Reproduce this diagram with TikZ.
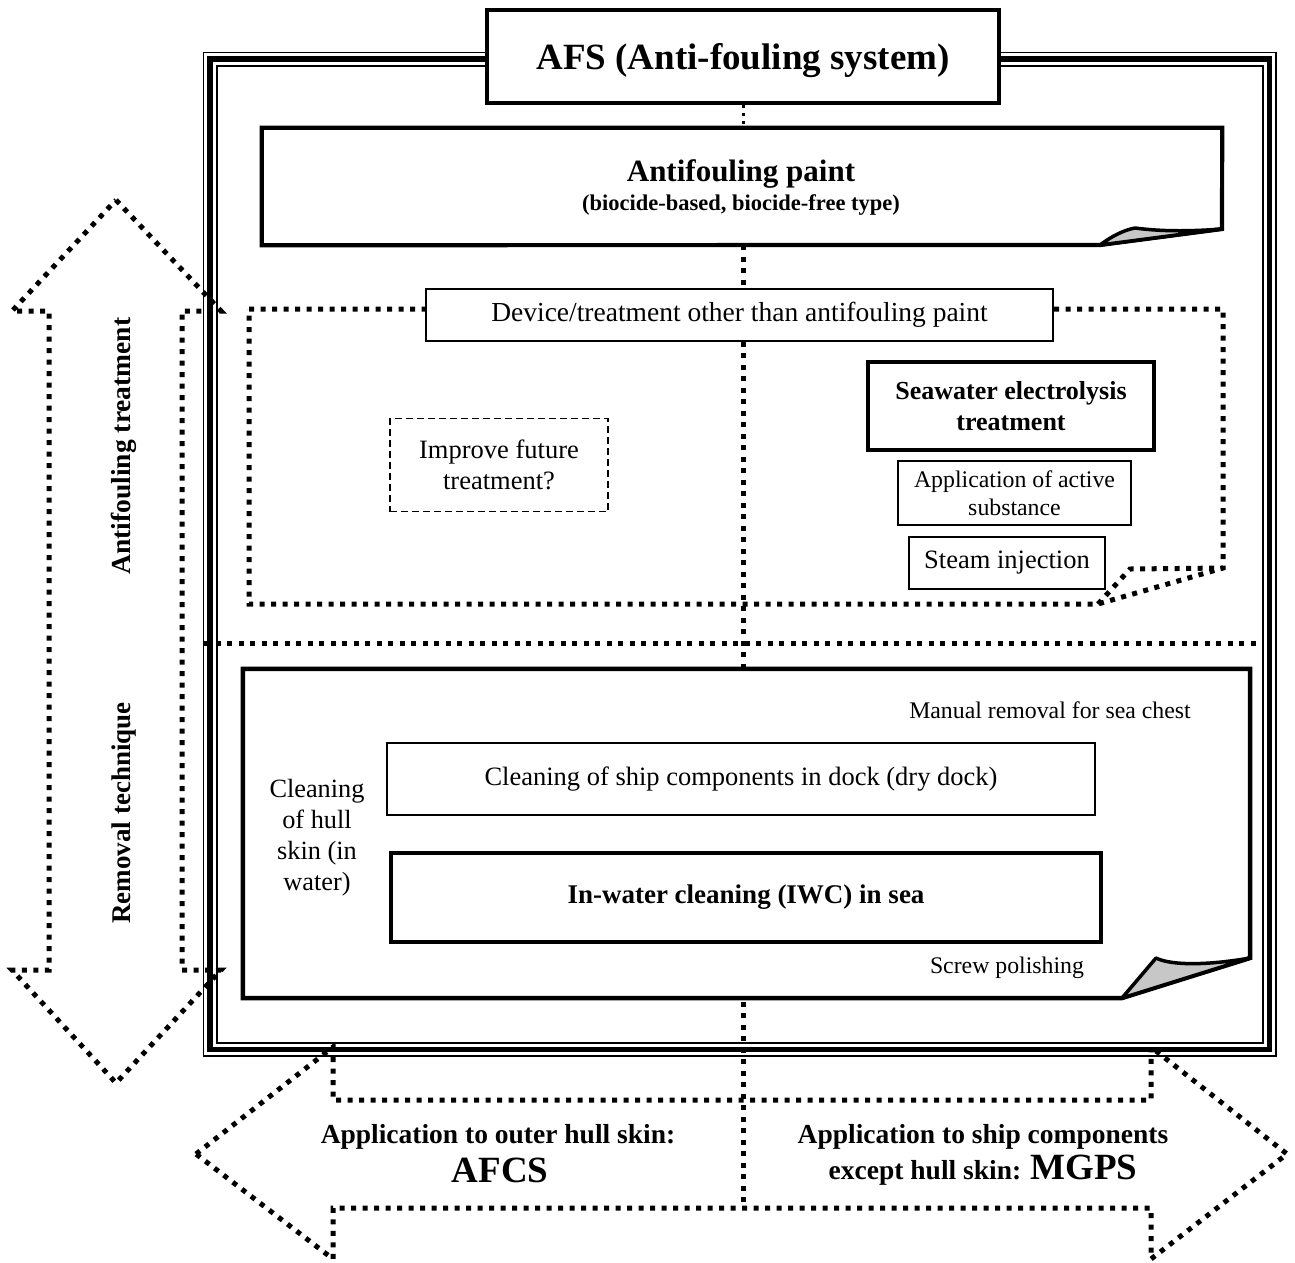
\documentclass[tikz,border=0pt]{standalone}
\usepackage{fontspec}
\setmainfont{Liberation Serif}
\usetikzlibrary{backgrounds}
\newcommand\myfs[2]{\fontsize{#1pt}{#2pt}\selectfont}
\begin{document}
\begin{tikzpicture}[x=1pt,y=-1pt,
  thinbox/.style={draw,line width=1.8pt,fill=white,inner sep=0pt,align=center},
  thickbox/.style={draw,line width=4.2pt,fill=white,inner sep=0pt,align=center},
  dotl/.style={line width=5pt,dash pattern=on 5pt off 6.5pt},
  smalldot/.style={line width=3pt,dash pattern=on 3pt off 5pt},
  lbl/.style={inner sep=0pt,align=center},
  shapeline/.style={line width=4.2pt,fill=white,line join=miter},
  flap/.style={line width=3.5pt,fill=black!22,line join=round}]
\useasboundingbox (0,0) rectangle (1295,1262);

% triple frame
\draw[line width=1.5pt] (203.5,52.5) rectangle (1276,1056);
\draw[line width=5.5pt] (210,59) rectangle (1269.5,1049.5);
\draw[line width=2pt] (217,65.5) rectangle (1262.5,1042.5);

% title
\node[thickbox,line width=3.5pt,minimum width=512pt,minimum height=93pt] (afs) at (743,56.5) {};
\node[lbl,font=\bfseries\myfs{37}{40}] (afstext) at (743,61) {AFS (Anti-fouling system)};

% antifouling paint (folded corner)
\node[lbl,minimum width=960pt,minimum height=117pt] (paint) at (742,186.5) {};
\draw[shapeline] (paint.north west) -- (paint.north east) -- (1222,229) -- (1100,245) -- (paint.south west) -- cycle;
\draw[flap] (1100,245) .. controls (1112,236) and (1124,230) .. (1135,228) .. controls (1165,232) and (1195,231) .. (1222,229) -- cycle;
\node[lbl,font=\bfseries\myfs{31}{34}] (painttitle) at (741,174) {Antifouling paint};
\node[lbl,font=\bfseries\myfs{22.5}{26}] (paintsub) at (741,205) {(biocide-based, biocide-free type)};

% device region (dotted, folded corner)
\draw[dotl] (249,309) -- (1223,309) -- (1223,568) -- (1098,604) -- (249,604) -- cycle;
\draw[dotl] (1098,604) -- (1130,569) -- (1223,568);
\node[thinbox,minimum width=627pt,minimum height=52pt,font=\myfs{27.5}{30}] (devlbl) at (739.5,315) {Device/treatment other than antifouling paint};

\node[lbl,draw,dashed,dash pattern=on 7pt off 4pt,line width=1.4pt,minimum width=218pt,minimum height=93pt,font=\myfs{26.5}{31}] (improve) at (499,465) {Improve future\\treatment?};

\node[thickbox,line width=4.5pt,minimum width=286pt,minimum height=88pt,font=\bfseries\myfs{26}{31}] (seawater) at (1011,406) {Seawater electrolysis\\treatment};
\node[thinbox,minimum width=233pt,minimum height=64pt,font=\myfs{23.8}{28}] (active) at (1014.5,493) {Application of active\\substance};
\node[thinbox,minimum width=196pt,minimum height=52pt,font=\myfs{26.5}{30}] (steam) at (1007,563) {Steam injection};

% divider
\draw[dotl] (204,643) -- (1262,643);

% removal region (folded corner)
\node[lbl,minimum width=1007pt,minimum height=329pt] (removal) at (746.5,833.5) {};
\draw[shapeline,line width=4.5pt] (removal.north west) -- (removal.north east) -- (1250,958) -- (1122,998) -- (removal.south west) -- cycle;
\draw[flap] (1122,998) -- (1156,958) .. controls (1172,966) and (1210,965) .. (1250,958) -- cycle;

\node[lbl,font=\myfs{23.8}{28}] (manual) at (1050,710) {Manual removal for sea chest};
\node[lbl,font=\myfs{23.8}{28}] (screw) at (1007,968) {Screw polishing};
\node[lbl,font=\myfs{26.3}{31}] (hull) at (317,838) {Cleaning\\of hull\\skin (in\\water)};
\node[thinbox,minimum width=708pt,minimum height=72pt,font=\myfs{26.5}{30}] (clean) at (741,779) {Cleaning of ship components in dock (dry dock)};
\node[thickbox,line width=4.5pt,minimum width=710pt,minimum height=89pt,font=\bfseries\myfs{27}{30}] (iwc) at (746,897.5) {In-water cleaning (IWC) in sea};

% left double arrow
\draw[dotl] (116,200) -- (221,311) -- (182,311) -- (182,970) -- (221,970) -- (116,1083) -- (12,970) -- (49,970) -- (49,311) -- (12,311) -- cycle;
\node[lbl,rotate=90,font=\bfseries\myfs{27.5}{30}] (treat) at (124,446) {Antifouling treatment};
\node[lbl,rotate=90,font=\bfseries\myfs{27}{30}] (removtech) at (124,813) {Removal technique};

% bottom double arrow
\draw[dotl] (196,1154) -- (333,1047) -- (333,1100) -- (1151,1100) -- (1151,1047) -- (1287,1154) -- (1151,1259) -- (1151,1208) -- (333,1208) -- (333,1259) -- cycle;
\node[lbl,font=\bfseries\myfs{27.5}{30}] (afcs1) at (498,1137) {Application to outer hull skin:};
\node[lbl,font=\bfseries\myfs{37}{40}] (afcs2) at (500,1170) {AFCS};
\node[lbl,font=\bfseries\myfs{27.5}{30}] (mgps1) at (983,1137) {Application to ship components};
\node[lbl,font=\bfseries\myfs{27.5}{30}] (mgps2) at (983,1170) {except hull skin: {\myfs{37}{40}MGPS}};

\coordinate (cbot) at (743,1208);

% central dotted connector
\begin{scope}[on background layer]
\draw[smalldot] (afs.south) -- (afs.south |- paint.north);
\draw[dotl] (afs.south |- paint.south) -- (afs.south |- devlbl.north);
\draw[dotl] (afs.south |- devlbl.south) -- (afs.south |- clean.north);
\draw[dotl] (afs.south |- clean.south) -- (afs.south |- iwc.north);
\draw[dotl] (afs.south |- iwc.south) -- (cbot);
\end{scope}
\end{tikzpicture}
\end{document}
